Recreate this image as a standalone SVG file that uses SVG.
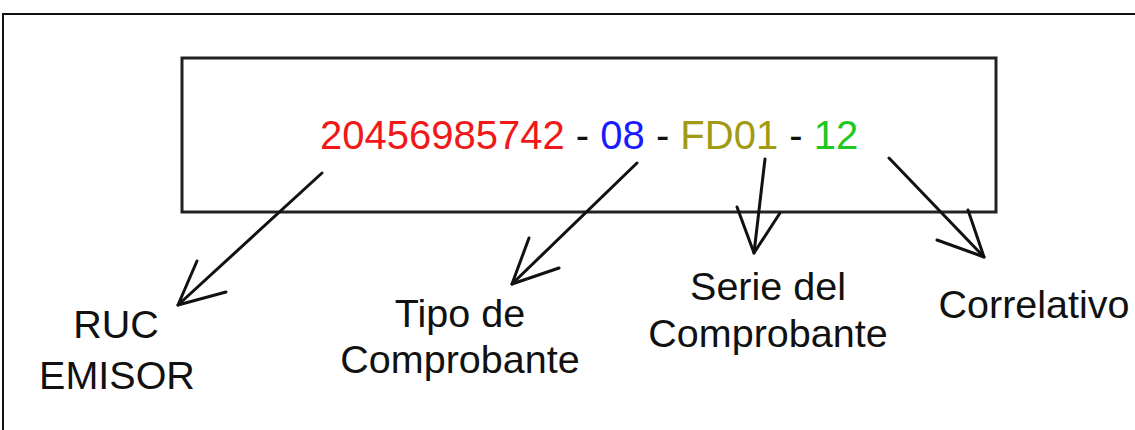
<svg xmlns="http://www.w3.org/2000/svg" width="1135" height="430" viewBox="0 0 1135 430">
<style>
.lbl{font-family:"Liberation Sans",Arial,sans-serif;font-size:39.5px;fill:#111;text-anchor:middle}
.main{font-family:"Liberation Sans",Arial,sans-serif;font-size:40px}
.conn{fill:none;stroke:#111;stroke-width:3;stroke-linecap:round;stroke-linejoin:round}
</style>
<rect width="1135" height="430" fill="#fff"/>
<path d="M3,440 V14 H1145" fill="none" stroke="#111" stroke-width="2"/>
<g id="codigo">
<rect x="182" y="58" width="814" height="154" fill="none" stroke="#222" stroke-width="3"/>
<text class="main" x="320" y="149"><tspan fill="#f01818">20456985742</tspan><tspan fill="#111"> - </tspan><tspan fill="#1a1aff">08</tspan><tspan fill="#111"> - </tspan><tspan fill="#a09a14">FD01</tspan><tspan fill="#111"> - </tspan><tspan fill="#1ec81e">12</tspan></text>
</g>
<g id="connectors">
<path class="conn" d="M322,173 L178,305"/>
<path class="conn" d="M197,261 L178,305 L226,292"/>
<path class="conn" d="M637,163 L512,284"/>
<path class="conn" d="M529,238 L512,284 L559,268"/>
<path class="conn" d="M765,159 L754,253"/>
<path class="conn" d="M737,207 L754,253 L780,213"/>
<path class="conn" d="M889,158 L984,257"/>
<path class="conn" d="M968,210 L984,257 L937,240"/>
</g>
<g id="ruc"><text class="lbl" x="116" y="338">RUC</text><text class="lbl" x="117" y="389">EMISOR</text></g>
<g id="tipo"><text class="lbl" x="460" y="327">Tipo de</text><text class="lbl" x="460" y="373">Comprobante</text></g>
<g id="serie"><text class="lbl" x="768" y="300">Serie del</text><text class="lbl" x="768" y="347">Comprobante</text></g>
<g id="correlativo"><text class="lbl" x="1034" y="318">Correlativo</text></g>
</svg>
